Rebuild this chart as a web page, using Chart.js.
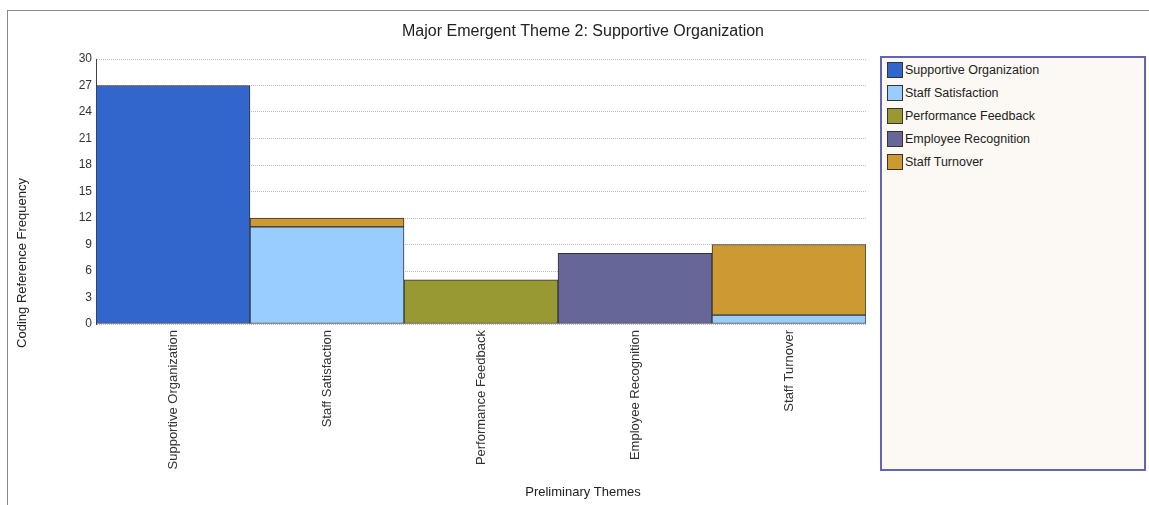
<!DOCTYPE html>
<html>
<head>
<meta charset="utf-8">
<script src="https://cdn.jsdelivr.net/npm/chart.js@4.4.0/dist/chart.umd.min.js"></script>
<style>
  body { margin: 0; background: #fff; font-family: "Liberation Sans", Arial, sans-serif; }
  #frame { position: absolute; left: 7px; top: 10px; width: 1142px; height: 495px;
           border-left: 1px solid #8a8a8a; border-top: 1px solid #8a8a8a; }
  #chart { position: absolute; left: 0; top: 0; }
  #legend { position: absolute; left: 880px; top: 56px; width: 262px; height: 411px;
            border: 2px solid #6464b4; background: #fcf9f4; }
  #legend ul { list-style: none; margin: 0; padding: 4px 0 0 5px; }
  #legend li { height: 23px; display: flex; align-items: flex-start; font-size: 12.5px; color: #222; }
  #legend .sw { width: 14px; height: 14px; border: 1px solid #333; margin-right: 2px; }
  #legend span.t { line-height: 16px; }
</style>
</head>
<body>
<div id="frame"><canvas id="chart" width="1141" height="494"></canvas></div>
<div id="legend"><ul id="legendList"></ul></div>
<script>
// Categories and series
const categories = ['Supportive Organization', 'Staff Satisfaction', 'Performance Feedback', 'Employee Recognition', 'Staff Turnover'];
const supportiveOrganization = [27, null, null, null, null];
const staffSatisfaction = [null, 11, null, null, 1];
const performanceFeedback = [null, null, 5, null, null];
const employeeRecognition = [null, null, null, 8, null];
const staffTurnover = [null, 1, null, null, 8];
const yMax = 30;
const yStep = 3;

const seriesNames = ['Supportive Organization', 'Staff Satisfaction', 'Performance Feedback', 'Employee Recognition', 'Staff Turnover'];
const seriesData = [supportiveOrganization, staffSatisfaction, performanceFeedback, employeeRecognition, staffTurnover];
const seriesColors = ['#3366cc', '#99ccff', '#999933', '#666699', '#cc9933'];

Chart.defaults.font.family = '"Liberation Sans", Arial, sans-serif';

// y axis title sits lower than the plot centre in the original, so draw it by hand
const yTitlePlugin = {
    id: 'yTitle',
    afterDraw(chart) {
        const ctx = chart.ctx;
        ctx.save();
        ctx.translate(14, 252);
        ctx.rotate(-Math.PI / 2);
        ctx.font = '13px "Liberation Sans", Arial, sans-serif';
        ctx.fillStyle = '#222';
        ctx.textAlign = 'center';
        ctx.textBaseline = 'middle';
        ctx.fillText('Coding Reference Frequency', 0, 0);
        ctx.restore();
    }
};

const chart = new Chart(document.getElementById('chart'), {
    type: 'bar',
    data: {
        labels: categories,
        datasets: seriesNames.map((name, i) => ({
            label: name,
            data: seriesData[i],
            backgroundColor: seriesColors[i],
            borderColor: '#333',
            borderWidth: 1,
            borderSkipped: false,
            categoryPercentage: 1,
            barPercentage: 1
        }))
    },
    options: {
        responsive: false,
        animation: false,
        layout: { padding: { left: 9 } },
        plugins: {
            legend: { display: false },
            tooltip: { enabled: false },
            title: {
                display: true,
                text: 'Major Emergent Theme 2: Supportive Organization',
                color: '#222',
                font: { size: 16, weight: 'normal' },
                padding: { top: 11, bottom: 17.8 }
            },
            subtitle: {
                display: true,
                position: 'bottom',
                text: 'Preliminary Themes',
                color: '#222',
                font: { size: 13, weight: 'normal' },
                padding: { top: 0, bottom: 5 }
            }
        },
        scales: {
            x: {
                stacked: true,
                grid: { display: false },
                border: { display: false },
                ticks: { color: '#333', font: { size: 13 }, maxRotation: 90, minRotation: 90, autoSkip: false, padding: -2 },
                afterFit: s => { s.height = 160.4; }
            },
            y: {
                stacked: true,
                min: 0,
                max: yMax,
                ticks: { stepSize: yStep, color: '#333', font: { size: 12 }, padding: 4 },
                grid: { color: '#bbb', drawTicks: false },
                border: { display: true, color: '#444', dash: [1, 1] },
                afterFit: s => { s.width = 79; }
            },
            // empty right-hand axis that keeps room for the legend box
            legendSpace: {
                axis: 'y',
                position: 'right',
                grid: { display: false },
                border: { display: false },
                ticks: { display: false },
                afterFit: s => { s.width = 283; }
            }
        }
    },
    plugins: [yTitlePlugin]
});

// HTML legend built from the datasets
const list = document.getElementById('legendList');
chart.data.datasets.forEach(ds => {
    const li = document.createElement('li');
    li.innerHTML = `<div class="sw" style="background:${ds.backgroundColor}"></div><span class="t">${ds.label}</span>`;
    list.appendChild(li);
});
</script>
</body>
</html>
